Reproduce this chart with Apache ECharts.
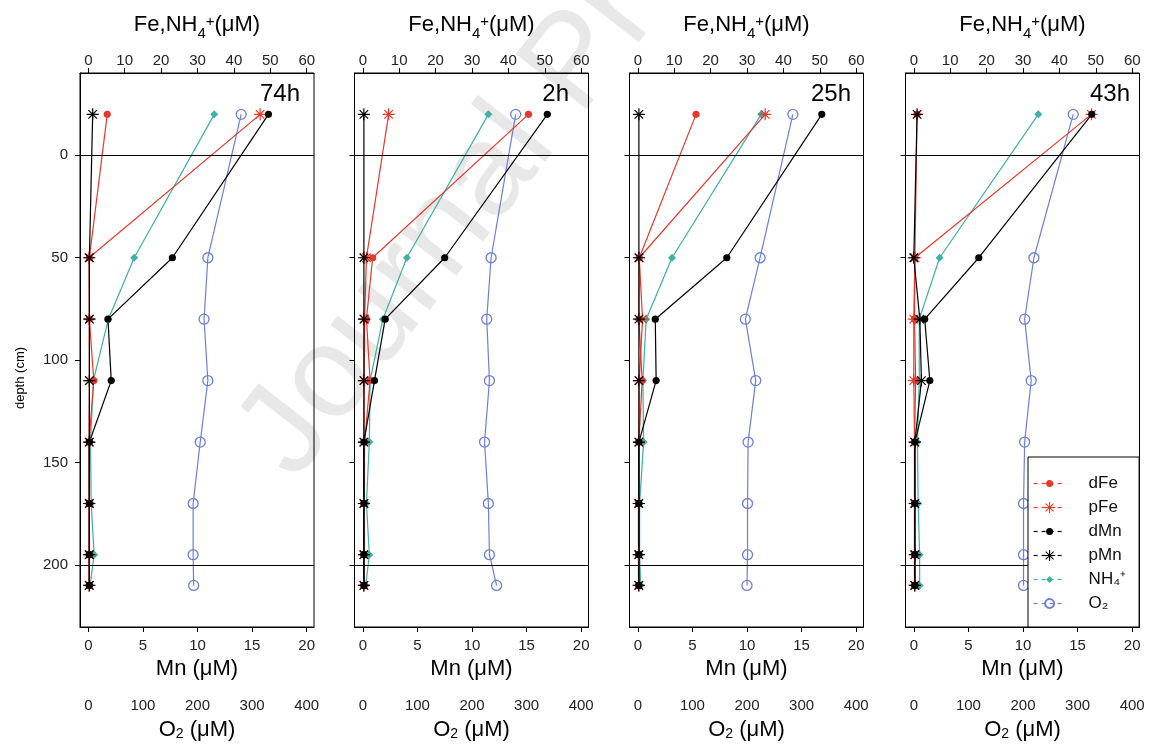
<!DOCTYPE html>
<html><head><meta charset="utf-8">
<script src="https://cdn.jsdelivr.net/npm/echarts@6/dist/echarts.min.js"></script>
<style>html,body{margin:0;padding:0;background:#fff}#c{width:1150px;height:747px}</style>
</head><body><div id="c"></div>
<script>
// ---------- data ----------
const depths = [-20, 50, 80, 110, 140, 170, 195, 210];
const panelNames = ['74h', '2h', '25h', '43h'];
const feTicks = [0, 10, 20, 30, 40, 50, 60];
const mnTicks = [0, 5, 10, 15, 20];
const o2Ticks = [0, 100, 200, 300, 400];
const depthTicks = [0, 50, 100, 150, 200];
const legendNames = ['dFe', 'pFe', 'dMn', 'pMn', 'NH4+', 'O2'];

// 74h
const dFe_74h = [5.2, 0.3, 0.3, 1.5, 0.2, 0.2, 0.2, 0.2];
const pFe_74h = [47.2, 0.2, 0.3, 0.3, 0.2, 0.2, 0.2, 0.2];
const dMn_74h = [16.5, 7.7, 1.8, 2.1, 0.1, 0.1, 0.1, 0.1];
const pMn_74h = [0.4, 0.1, 0.1, 0.1, 0.1, 0.1, 0.1, 0.1];
const nh4_74h = [34.6, 12.6, 5.5, 1.4, 0.6, 0.8, 1.6, 0.5];
const o2_74h  = [280, 219, 212, 219, 205, 192, 192, 193];
// 2h
const dFe_2h = [45.5, 2.7, 1.0, 2.0, 0.5, 0.3, 0.3, 0.3];
const pFe_2h = [7.1, 1.0, 0.5, 0.4, 0.3, 0.3, 0.3, 0.3];
const dMn_2h = [16.9, 7.5, 2.05, 1.07, 0.1, 0.1, 0.1, 0.1];
const pMn_2h = [0.1, 0.1, 0.1, 0.1, 0.1, 0.1, 0.1, 0.1];
const nh4_2h = [34.5, 12.1, 5.5, 2.0, 1.8, 1.0, 1.8, 0.8];
const o2_2h  = [280, 235, 227, 232, 223, 230, 232, 245];
// 25h
const dFe_25h = [16.0, 0.4, 0.3, 1.2, 0.3, 0.2, 0.2, 0.2];
const pFe_25h = [35.0, 0.4, 1.3, 0.4, 0.3, 0.2, 0.2, 0.2];
const dMn_25h = [16.85, 8.15, 1.6, 1.68, 0.1, 0.1, 0.1, 0.1];
const pMn_25h = [0.1, 0.1, 0.1, 0.1, 0.1, 0.1, 0.1, 0.1];
const nh4_25h = [33.9, 9.4, 2.3, 1.4, 1.6, 0.5, 0.5, 0.8];
const o2_25h  = [284, 224, 197, 216, 202, 201, 201, 200];
// 43h
const dFe_43h = [0.9, 0.3, 0.2, 0.5, 0.2, 0.2, 0.2, 0.2];
const pFe_43h = [48.8, 0.3, 0.0, 0.0, 0.2, 0.2, 0.2, 0.2];
const dMn_43h = [16.3, 5.95, 1.0, 1.47, 0.1, 0.1, 0.1, 0.1];
const pMn_43h = [0.3, 0.0, 0.55, 0.7, 0.1, 0.1, 0.1, 0.1];
const nh4_43h = [34.2, 7.1, 1.5, 1.5, 1.0, 1.2, 1.6, 1.6];
const o2_43h  = [292, 220, 203, 215, 203, 201, 201, 201];

const panelData = [
  {dFe: dFe_74h, pFe: pFe_74h, dMn: dMn_74h, pMn: pMn_74h, nh4: nh4_74h, o2: o2_74h},
  {dFe: dFe_2h, pFe: pFe_2h, dMn: dMn_2h, pMn: pMn_2h, nh4: nh4_2h, o2: o2_2h},
  {dFe: dFe_25h, pFe: pFe_25h, dMn: dMn_25h, pMn: pMn_25h, nh4: nh4_25h, o2: o2_25h},
  {dFe: dFe_43h, pFe: pFe_43h, dMn: dMn_43h, pMn: pMn_43h, nh4: nh4_43h, o2: o2_43h}
];

// ---------- layout / style ----------
const FONT = '"Liberation Sans", Arial, Helvetica, sans-serif';
const gridLefts = [80, 354.5, 629.5, 905.5];
const GRID_TOP = 73, GRID_W = 234, GRID_H = 554;
const FE_MIN = -2.28, FE_MAX = 62.0;
const MN_MIN = -0.76, MN_MAX = 20.67;
const O2_MIN = -15.2, O2_MAX = 413.4;
const Y_MIN = -40.2, Y_MAX = 230.3;
const labelRight = [300, 569, 851, 1130];

const RED = '#e5392c', TEAL = '#3fb0a2', BLUE = '#6c7fdb', BLACK = '#000';
// symbols padded with zero-length points so the legend icon (fixed size) shows small marks
const PAD = ' M-8,-8L-8,-8 M8,8L8,8';
const STAR = 'path://M-10,-1L10,-1L10,1L-10,1Z M-1,-10L1,-10L1,10L-1,10Z M-6.36,-7.78L7.78,6.36L6.36,7.78L-7.78,-6.36Z M-7.78,6.36L6.36,-7.78L7.78,-6.36L-6.36,7.78Z';
const DOT = 'path://M0,-5A5,5 0 1,1 0,5A5,5 0 1,1 0,-5Z' + PAD;
const DIAM = 'path://M0,-5L5,0L0,5L-5,0Z' + PAD;
const RING = 'path://M0,-6.4A6.4,6.4 0 1,1 0,6.4A6.4,6.4 0 1,1 0,-6.4Z' + PAD;

const xAxes = [], yAxes = [], series = [];

function lineSeries(name, xi, yi, vals, color, symbol, size, extra) {
  const s = {
    type: 'line', name: name, xAxisIndex: xi, yAxisIndex: yi,
    data: depths.map((d, k) => [vals[k], d]),
    symbol: symbol, symbolSize: size, showAllSymbol: true, clip: false,
    silent: true, animation: false,
    lineStyle: {color: color, width: 1.2},
    itemStyle: {color: color}
  };
  return Object.assign(s, extra || {});
}

panelData.forEach((p, i) => {
  const xFe = xAxes.length, xMn = xFe + 1, xO2 = xFe + 2;
  xAxes.push({
    gridIndex: i, type: 'value', position: 'top', min: FE_MIN, max: FE_MAX,
    axisLine: {show: true, onZero: false, lineStyle: {color: '#000', width: 1}},
    axisTick: {show: true, customValues: feTicks, length: 5, lineStyle: {color: '#000'}},
    axisLabel: {customValues: feTicks, fontSize: 15, color: '#222', margin: 5, fontFamily: FONT},
    splitLine: {show: false},
    name: '{a|Fe,NH}{s|4}{p|+}{a|(μM)}', nameLocation: 'middle', nameGap: 32,
    nameTextStyle: {fontFamily: FONT, rich: {
      a: {fontSize: 22, color: '#000', fontFamily: FONT, verticalAlign: 'middle'},
      s: {fontSize: 15, color: '#000', fontFamily: FONT, padding: [18, 0, 0, 0], verticalAlign: 'middle'},
      p: {fontSize: 15, color: '#000', fontFamily: FONT, padding: [0, 0, 6, 0], verticalAlign: 'middle'}
    }}
  });
  xAxes.push({
    gridIndex: i, type: 'value', position: 'bottom', min: MN_MIN, max: MN_MAX,
    axisLine: {show: true, onZero: false, lineStyle: {color: '#000', width: 1}},
    axisTick: {show: true, customValues: mnTicks, length: 5, lineStyle: {color: '#000'}},
    axisLabel: {customValues: mnTicks, fontSize: 15, color: '#222', margin: 11, fontFamily: FONT},
    splitLine: {show: false},
    name: 'Mn (μM)', nameLocation: 'middle', nameGap: 28,
    nameTextStyle: {fontSize: 22, color: '#000', fontFamily: FONT}
  });
  xAxes.push({
    gridIndex: i, type: 'value', position: 'bottom', offset: 60, min: O2_MIN, max: O2_MAX,
    axisLine: {show: false, onZero: false},
    axisTick: {show: false},
    axisLabel: {customValues: o2Ticks, fontSize: 15, color: '#222', margin: 11, fontFamily: FONT},
    splitLine: {show: false},
    name: '{a|O}{s|2}{a| (μM)}', nameLocation: 'middle', nameGap: 32,
    nameTextStyle: {fontFamily: FONT, rich: {
      a: {fontSize: 22, color: '#000', fontFamily: FONT, verticalAlign: 'middle'},
      s: {fontSize: 14, color: '#000', fontFamily: FONT, padding: [8, 0, 0, 0], verticalAlign: 'middle'}
    }}
  });
  yAxes.push({
    gridIndex: i, type: 'value', inverse: true, min: Y_MIN, max: Y_MAX,
    axisLine: {show: true, onZero: false, lineStyle: {color: '#000', width: 1}},
    axisTick: {show: true, customValues: depthTicks, length: 5, lineStyle: {color: '#000'}},
    axisLabel: {show: i === 0, customValues: depthTicks, fontSize: 15, color: '#222', margin: 12, fontFamily: FONT},
    splitLine: {show: false}
  });

  series.push(lineSeries('O2', xO2, i, p.o2, BLUE, RING, 12.5, {
    itemStyle: {color: 'transparent', borderColor: BLUE, borderWidth: 1.3},
    markLine: {
      silent: true, symbol: ['none', 'none'], label: {show: false}, animation: false,
      lineStyle: {color: '#000', width: 1, type: 'solid'},
      data: [{yAxis: 0}, {yAxis: 200}]
    }
  }));
  series.push(lineSeries('NH4+', xFe, i, p.nh4, TEAL, DIAM, 12.8));
  series.push(lineSeries('dFe', xFe, i, p.dFe, RED, DOT, 11.5));
  series.push(lineSeries('pFe', xFe, i, p.pFe, RED, STAR, 12));
  series.push(lineSeries('dMn', xMn, i, p.dMn, BLACK, DOT, 11.5));
  series.push(lineSeries('pMn', xMn, i, p.pMn, BLACK, STAR, 12));
});

const graphics = [
  {type: 'text', x: 318, y: 500, rotation: 52 * Math.PI / 180, z: -10, silent: true,
   style: {text: 'Journal Pre-proof', fontSize: 130, fontFamily: FONT, fill: '#e8e8e8', textAlign: 'left', textVerticalAlign: 'bottom'}},
  {type: 'text', x: 20, y: 378, rotation: Math.PI / 2, silent: true,
   style: {text: 'depth (cm)', fontSize: 13, fontFamily: FONT, fill: '#000', textAlign: 'center', textVerticalAlign: 'middle'}}
];
panelNames.forEach((n, i) => {
  graphics.push({type: 'text', x: labelRight[i], y: 94, silent: true,
    style: {text: n, fontSize: 24, fontFamily: FONT, fill: '#000', textAlign: 'right', textVerticalAlign: 'middle'}});
});

const chart = echarts.init(document.getElementById('c'), null, {renderer: 'canvas'});
chart.setOption({
  animation: false,
  backgroundColor: '#fff',
  textStyle: {fontFamily: FONT},
  grid: gridLefts.map(l => ({left: l, top: GRID_TOP, width: GRID_W, height: GRID_H, show: true,
    borderColor: '#000', borderWidth: 1, backgroundColor: 'transparent', containLabel: false})),
  xAxis: xAxes,
  yAxis: yAxes,
  series: series,
  legend: {
    data: legendNames, orient: 'vertical', left: 1028, top: 457,
    padding: [18, 13, 15, 5], itemWidth: 32, itemHeight: 14, itemGap: 7,
    backgroundColor: '#fff', borderColor: '#000', borderWidth: 1, borderRadius: 0,
    lineStyle: {type: [4, 4], width: 1.2},
    selectedMode: false, z: 20,
    formatter: function (name) {
      if (name === 'NH4+') return 'NH\u2084\u207A';
      if (name === 'O2') return 'O\u2082';
      return name;
    },
    textStyle: {fontSize: 17, lineHeight: 17, color: '#111', fontFamily: FONT, padding: [0, 0, 0, 18]}
  },
  graphic: graphics
});
</script>
</body></html>
